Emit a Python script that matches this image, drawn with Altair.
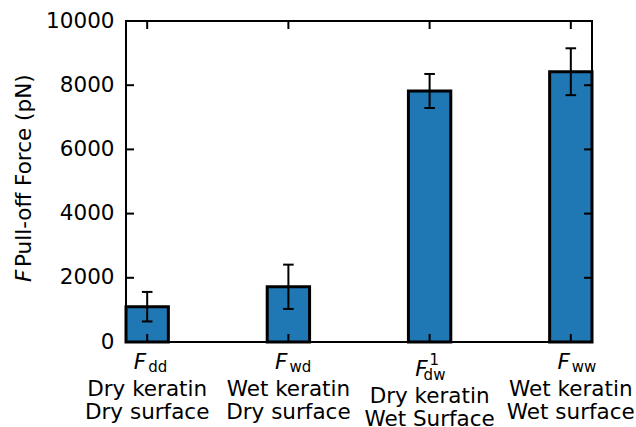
import altair as alt
import pandas as pd

# Pull-off force for the four keratin / surface wetting combinations
subscripts = ["dd", "wd", "dw", "ww"]
superscripts = ["", "", "1", ""]
keratin_state = ["Dry keratin", "Wet keratin", "Dry keratin", "Wet keratin"]
surface_state = ["Dry surface", "Dry surface", "Wet Surface", "Wet surface"]
force_mean = [1100, 1720, 7820, 8420]
force_err = [460, 690, 530, 730]
y_ticks = [0, 2000, 4000, 6000, 8000, 10000]

df = pd.DataFrame({
    "pos": list(range(len(subscripts))),
    "sub": subscripts,
    "sup": superscripts,
    "keratin": keratin_state,
    "surface": surface_state,
    "force": force_mean,
    "err": force_err,
})
tick_df = pd.DataFrame({"tick": y_ticks})

W, H = 466, 321
FONT = "DejaVu Sans"
FS = 21.5
FS_SMALL = 15
BAR_HALF = 0.15
CAP_HALF = 0.0375

xs = alt.Scale(domain=[-BAR_HALF, len(subscripts) - 1 + BAR_HALF], nice=False, zero=False)
ys = alt.Scale(domain=[0, 10000], nice=False)

base = alt.Chart(df)

bars = base.transform_calculate(
    x0=f"datum.pos - {BAR_HALF}", x1=f"datum.pos + {BAR_HALF}"
).mark_bar(color="#1f77b4", stroke="black", strokeWidth=3).encode(
    x=alt.X("x0:Q", scale=xs, axis=None),
    x2="x1:Q",
    y=alt.Y("force:Q", scale=ys, axis=alt.Axis(
        values=y_ticks, format="d", domain=False, ticks=False, grid=False,
        labelFont=FONT, labelFontSize=FS, labelColor="black",
        labelPadding=12, labelOverlap=False, labelBound=False, title=None)),
    y2=alt.datum(0),
)

err = base.transform_calculate(
    lo="datum.force - datum.err", hi="datum.force + datum.err",
    c0=f"datum.pos - {CAP_HALF}", c1=f"datum.pos + {CAP_HALF}",
)
whisker = err.mark_rule(color="black", strokeWidth=2).encode(
    x=alt.X("pos:Q", scale=xs), y=alt.Y("lo:Q", scale=ys), y2="hi:Q")
cap_lo = err.mark_rule(color="black", strokeWidth=2).encode(
    x=alt.X("c0:Q", scale=xs), x2="c1:Q", y=alt.Y("lo:Q", scale=ys))
cap_hi = err.mark_rule(color="black", strokeWidth=2).encode(
    x=alt.X("c0:Q", scale=xs), x2="c1:Q", y=alt.Y("hi:Q", scale=ys))

# inward ticks on all four sides
ticks = alt.Chart(tick_df)
tick_left = ticks.mark_rule(color="black", strokeWidth=2).encode(
    y=alt.Y("tick:Q", scale=ys), x=alt.value(0), x2=alt.value(8))
tick_right = ticks.mark_rule(color="black", strokeWidth=2).encode(
    y=alt.Y("tick:Q", scale=ys), x=alt.value(W - 8), x2=alt.value(W))
tick_top = base.mark_rule(color="black", strokeWidth=2).encode(
    x=alt.X("pos:Q", scale=xs), y=alt.value(0), y2=alt.value(8))
tick_bottom = base.mark_rule(color="black", strokeWidth=2).encode(
    x=alt.X("pos:Q", scale=xs), y=alt.value(H - 8), y2=alt.value(H))


def label(field, y_px, size=FS, align="center", dx=0, with_sup=False):
    flt = "datum.sup != ''" if with_sup else "datum.sup == ''"
    return base.transform_filter(flt).mark_text(
        font=FONT, fontSize=size, align=align, baseline="alphabetic",
        dx=dx, color="black",
    ).encode(x=alt.X("pos:Q", scale=xs), y=alt.value(y_px), text=f"{field}:N")


def f_label(y_px, dx, with_sup):
    flt = "datum.sup != ''" if with_sup else "datum.sup == ''"
    return base.transform_filter(flt).transform_calculate(F="'F'").mark_text(
        font=FONT, fontSize=FS, fontStyle="italic", align="right",
        baseline="alphabetic", dx=dx, color="black",
    ).encode(x=alt.X("pos:Q", scale=xs), y=alt.value(y_px), text="F:N")


labels = [
    f_label(348, -1, False),
    label("sub", 351, size=FS_SMALL, align="left", dx=1),
    label("keratin", 374.5),
    label("surface", 397.5),
    f_label(355, -2, True),
    label("sup", 344, size=FS_SMALL, align="left", dx=0, with_sup=True),
    label("sub", 359, size=FS_SMALL, align="left", dx=-6, with_sup=True),
    label("keratin", 382, with_sup=True),
    label("surface", 405, with_sup=True),
]

# y-axis title: italic F followed by the rest of the title, rotated
title_df = pd.DataFrame({"f": ["F"], "rest": ["Pull-off Force (pN)"]})
title_f = alt.Chart(title_df).mark_text(
    font=FONT, fontSize=FS, fontStyle="italic", angle=270, align="left",
    baseline="alphabetic", color="black",
).encode(x=alt.value(-95), y=alt.value(261), text="f:N")
title_rest = alt.Chart(title_df).mark_text(
    font=FONT, fontSize=FS, angle=270, align="left",
    baseline="alphabetic", color="black",
).encode(x=alt.value(-95), y=alt.value(246), text="rest:N")

chart = alt.layer(
    bars, whisker, cap_lo, cap_hi,
    tick_left, tick_right, tick_top, tick_bottom,
    *labels, title_f, title_rest,
).properties(
    width=W, height=H,
    padding={"left": 126, "top": 21, "right": 44, "bottom": 85},
    autosize=alt.AutoSizeParams(type="none"),
    background="white",
).configure_view(stroke="black", strokeWidth=2)

chart.save("out.html", embed_options={"renderer": "svg", "actions": False})
